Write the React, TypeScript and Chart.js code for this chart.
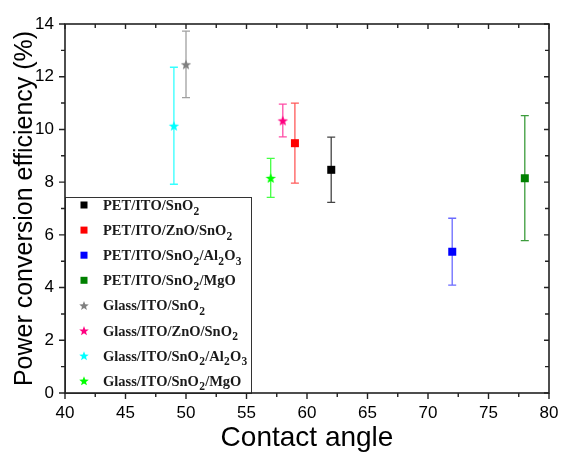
import React, { useEffect, useRef } from 'react';
import { Chart, registerables } from 'chart.js';

Chart.register(...registerables);

// ---- data ----
const seriesLabels = [
  'PET/ITO/SnO₂',
  'PET/ITO/ZnO/SnO₂',
  'PET/ITO/SnO₂/Al₂O₃',
  'PET/ITO/SnO₂/MgO',
  'Glass/ITO/SnO₂',
  'Glass/ITO/ZnO/SnO₂',
  'Glass/ITO/SnO₂/Al₂O₃',
  'Glass/ITO/SnO₂/MgO',
];
const contactAngle = [62, 59, 72, 78, 50, 58, 49, 57];
const efficiency = [8.47, 9.48, 5.36, 8.15, 12.47, 10.34, 10.14, 8.16];
const efficiencyError = [1.24, 1.52, 1.27, 2.37, 1.26, 0.62, 2.22, 0.74];
const markerShapes = ['square', 'square', 'square', 'square', 'star', 'star', 'star', 'star'];
const markerColors = ['#000000', '#ff0000', '#0000ff', '#008000', '#808080', '#ff0080', '#00ffff', '#00ff00'];
const errorColors = ['#444444', '#ff5a5a', '#6a6aff', '#3c9c3c', '#a0a0a0', '#ff4da6', '#33ffff', '#44ff44'];

const xAxisMin = 40;
const xAxisMax = 80;
const xMajorStep = 5;
const xMinorStep = 2.5;
const yAxisMin = 0;
const yAxisMax = 14;
const yMajorStep = 2;
const yMinorStep = 1;

const xTitle = 'Contact angle';
const yTitle = 'Power conversion efficiency (%)';

// ---- helpers ----
function starPath(ctx: CanvasRenderingContext2D, cx: number, cy: number, R: number, r: number) {
  ctx.beginPath();
  for (let i = 0; i < 10; i++) {
    const rad = i % 2 === 0 ? R : r;
    const a = -Math.PI / 2 + (i * Math.PI) / 5;
    const px = cx + rad * Math.cos(a);
    const py = cy + rad * Math.sin(a);
    if (i === 0) ctx.moveTo(px, py);
    else ctx.lineTo(px, py);
  }
  ctx.closePath();
}

function drawMarker(ctx: CanvasRenderingContext2D, shape: string, color: string, x: number, y: number, size: number) {
  ctx.save();
  ctx.fillStyle = color;
  if (shape === 'square') {
    ctx.fillRect(x - size / 2, y - size / 2, size, size);
  } else {
    starPath(ctx, x, y + size * 0.06, size / 2, size * 0.21);
    ctx.fill();
  }
  ctx.restore();
}

function makeMarkerImage(shape: string, color: string): HTMLCanvasElement {
  const c = document.createElement('canvas');
  const s = shape === 'square' ? 10 : 14;
  c.width = s;
  c.height = s;
  const ctx = c.getContext('2d')!;
  drawMarker(ctx, shape, color, s / 2, s / 2, shape === 'square' ? 8 : 11);
  return c;
}

const subMap: Record<string, string> = {
  '₀': '0', '₁': '1', '₂': '2', '₃': '3', '₄': '4', '₅': '5', '₆': '6', '₇': '7', '₈': '8', '₉': '9',
};

function drawRichLabel(ctx: CanvasRenderingContext2D, text: string, x: number, baseline: number) {
  let cx = x;
  for (const ch of Array.from(text)) {
    const sub = subMap[ch];
    if (sub) {
      ctx.font = 'bold 11.5px "Liberation Serif", "Times New Roman", serif';
      ctx.fillText(sub, cx + 0.3, baseline + 4.5);
      cx += ctx.measureText(sub).width + 0.5;
    } else {
      ctx.font = 'bold 14.5px "Liberation Serif", "Times New Roman", serif';
      ctx.fillText(ch, cx, baseline);
      cx += ctx.measureText(ch).width;
    }
  }
}

// ---- plugins ----
const errorBarPlugin = {
  id: 'errorBars',
  beforeDatasetsDraw(chart: any) {
    const ctx = chart.ctx as CanvasRenderingContext2D;
    const xs = chart.scales.x;
    const ys = chart.scales.y;
    ctx.save();
    chart.data.datasets.forEach((ds: any, i: number) => {
      const pt = ds.data[0];
      const px = xs.getPixelForValue(pt.x);
      const top = ys.getPixelForValue(pt.y + efficiencyError[i]);
      const bot = ys.getPixelForValue(pt.y - efficiencyError[i]);
      ctx.strokeStyle = errorColors[i];
      ctx.lineWidth = 1.3;
      ctx.beginPath();
      ctx.moveTo(px, top);
      ctx.lineTo(px, bot);
      ctx.moveTo(px - 4, top);
      ctx.lineTo(px + 4, top);
      ctx.moveTo(px - 4, bot);
      ctx.lineTo(px + 4, bot);
      ctx.stroke();
    });
    ctx.restore();
  },
};

const framePlugin = {
  id: 'frame',
  afterDatasetsDraw(chart: any) {
    const ctx = chart.ctx as CanvasRenderingContext2D;
    const { left, right, top, bottom } = chart.chartArea;
    const xs = chart.scales.x;
    const ys = chart.scales.y;

    // legend box
    const boxRight = 251;
    const boxTop = 197;
    ctx.save();
    ctx.fillStyle = '#ffffff';
    ctx.fillRect(left, boxTop, boxRight - left, bottom - boxTop);
    ctx.strokeStyle = '#333333';
    ctx.lineWidth = 1;
    ctx.strokeRect(left + 0.5, boxTop + 0.5, boxRight - left, bottom - boxTop);
    ctx.textBaseline = 'alphabetic';
    ctx.textAlign = 'left';
    seriesLabels.forEach((lab, i) => {
      const cy = 205 + i * 25.1;
      drawMarker(ctx, markerShapes[i], markerColors[i], 84, cy, markerShapes[i] === 'square' ? 7 : 10);
      ctx.fillStyle = '#1a1a1a';
      drawRichLabel(ctx, lab, 103, cy + 5);
    });
    ctx.restore();

    // frame
    ctx.save();
    ctx.strokeStyle = '#222222';
    ctx.lineWidth = 1.6;
    ctx.strokeRect(left, top, right - left, bottom - top);
    ctx.lineWidth = 1.4;
    ctx.beginPath();
    for (let v = xAxisMin; v <= xAxisMax + 1e-9; v += xMinorStep) {
      const px = xs.getPixelForValue(v);
      const major = Math.abs(v / xMajorStep - Math.round(v / xMajorStep)) < 1e-6;
      ctx.moveTo(px, bottom);
      ctx.lineTo(px, bottom + (major ? 6 : 4));
      ctx.moveTo(px, top);
      ctx.lineTo(px, top + (major ? 5 : 4));
    }
    for (let v = yAxisMin; v <= yAxisMax + 1e-9; v += yMinorStep) {
      const py = ys.getPixelForValue(v);
      const major = Math.abs(v / yMajorStep - Math.round(v / yMajorStep)) < 1e-6;
      ctx.moveTo(left, py);
      ctx.lineTo(left - (major ? 6 : 4), py);
      ctx.moveTo(right, py);
      ctx.lineTo(right - (major ? 5 : 4), py);
    }
    ctx.stroke();
    ctx.restore();
  },
};

export default function App() {
  const canvasRef = useRef<HTMLCanvasElement | null>(null);

  useEffect(() => {
    if (!canvasRef.current) return;
    const datasets = seriesLabels.map((lab, i) => ({
      label: lab,
      data: [{ x: contactAngle[i], y: efficiency[i] }],
      pointStyle: makeMarkerImage(markerShapes[i], markerColors[i]) as any,
      backgroundColor: markerColors[i],
      borderColor: markerColors[i],
      pointRadius: 5,
      showLine: false,
    }));
    const tickFont = { family: '"Liberation Sans", Arial, sans-serif', size: 17 };
    const chart = new Chart(canvasRef.current, {
      type: 'scatter',
      data: { datasets },
      options: {
        animation: false,
        responsive: false,
        layout: { padding: { top: 24, right: 13, left: 0, bottom: 0 } },
        plugins: { legend: { display: false }, tooltip: { enabled: false } },
        scales: {
          x: {
            type: 'linear',
            min: xAxisMin,
            max: xAxisMax,
            grid: { display: false, drawTicks: false },
            border: { display: false },
            ticks: { stepSize: xMajorStep, color: '#000', font: tickFont, padding: 10, maxRotation: 0, autoSkip: false },
            title: {
              display: true,
              text: xTitle,
              color: '#000',
              font: { family: '"Liberation Sans", Arial, sans-serif', size: 28 },
              padding: { top: 0, bottom: -1 },
            },
            afterFit(scale: any) {
              scale.height = 61;
              scale.paddingLeft = 0;
              scale.paddingRight = 0;
            },
          },
          y: {
            type: 'linear',
            min: yAxisMin,
            max: yAxisMax,
            grid: { display: false, drawTicks: false },
            border: { display: false },
            ticks: { stepSize: yMajorStep, color: '#000', font: tickFont, padding: 11 },
            title: {
              display: true,
              text: yTitle,
              color: '#000',
              font: { family: '"Liberation Sans", Arial, sans-serif', size: 25 },
              padding: { top: 10, bottom: 0 },
            },
            afterFit(scale: any) {
              scale.width = 65;
              scale.paddingTop = 0;
              scale.paddingBottom = 0;
            },
          },
        },
      },
      plugins: [errorBarPlugin, framePlugin],
    });
    return () => chart.destroy();
  }, []);

  return (
    <div style={{ position: 'absolute', left: 0, top: 0, width: 562, height: 454, background: '#fff' }}>
      <canvas ref={canvasRef} width={562} height={454} />
    </div>
  );
}
